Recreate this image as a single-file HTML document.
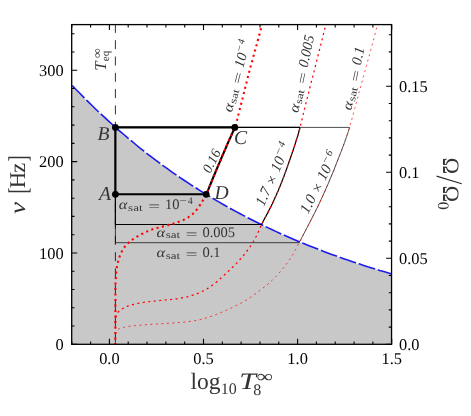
<!DOCTYPE html>
<html><head><meta charset="utf-8"><style>
html,body{margin:0;padding:0;background:#fff;}
svg{display:block}
text{font-family:"Liberation Serif",serif;text-rendering:geometricPrecision;}
.tl{font-size:16.4px;fill:#000}
.it{font-style:italic}
.g{fill:#343434}
</style></head><body>
<svg width="471" height="416" viewBox="0 0 471 416">
<rect width="471" height="416" fill="#fff"/>
<defs><clipPath id="cp"><rect x="71.7" y="24.6" width="319.85" height="319.7"/></clipPath></defs>
<g clip-path="url(#cp)">
<path d="M71.7 344.3 L71.7 85.0 L75.8 89.2 L79.8 93.3 L83.8 97.4 L87.8 101.4 L91.8 105.3 L95.8 109.2 L99.8 113.0 L103.8 116.7 L107.8 120.4 L111.8 124.0 L115.8 127.6 L119.8 131.1 L123.8 134.5 L127.7 137.9 L131.7 141.2 L135.7 144.5 L139.7 147.8 L143.7 150.9 L147.7 154.1 L151.7 157.1 L155.7 160.2 L159.7 163.1 L163.7 166.1 L167.7 168.9 L171.7 171.8 L175.7 174.6 L179.7 177.3 L183.7 180.0 L187.7 182.7 L191.7 185.3 L195.7 187.8 L199.7 190.4 L203.7 192.9 L207.7 195.3 L211.7 197.7 L215.7 200.1 L219.7 202.4 L223.7 204.7 L227.7 207.0 L231.7 209.2 L235.7 211.4 L239.7 213.5 L243.7 215.6 L247.7 217.7 L251.7 219.8 L255.7 221.8 L259.7 223.7 L263.7 225.7 L267.7 227.6 L271.7 229.5 L275.7 231.4 L279.7 233.2 L283.7 235.0 L287.7 236.7 L291.7 238.5 L295.7 240.2 L299.7 241.9 L303.7 243.5 L307.7 245.2 L311.7 246.8 L315.7 248.3 L319.7 249.9 L323.7 251.4 L327.7 252.9 L331.7 254.4 L335.7 255.8 L339.7 257.3 L343.7 258.7 L347.7 260.1 L351.7 261.4 L355.7 262.8 L359.7 264.1 L363.7 265.4 L367.7 266.7 L371.7 267.9 L375.7 269.1 L379.7 270.4 L383.7 271.6 L387.7 272.7 L391.6 273.9 L391.6 344.3 Z" fill="#c8c8c8"/>
<path d="M115.4 23.9 L115.4 344.2" stroke="#000" stroke-width="0.8" stroke-dasharray="9 7.3" fill="none"/>
<path d="M71.7 85.0 L75.8 89.2 L79.8 93.3 L83.8 97.4 L87.8 101.4 L91.8 105.3 L95.8 109.2 L99.8 113.0 L103.8 116.7 L107.8 120.4 L111.8 124.0 L115.8 127.6 L119.8 131.1 L123.8 134.5 L127.7 137.9 L131.7 141.2 L135.7 144.5 L139.7 147.8 L143.7 150.9 L147.7 154.1 L151.7 157.1 L155.7 160.2 L159.7 163.1 L163.7 166.1 L167.7 168.9 L171.7 171.8 L175.7 174.6 L179.7 177.3 L183.7 180.0 L187.7 182.7 L191.7 185.3 L195.7 187.8 L199.7 190.4 L203.7 192.9 L207.7 195.3 L211.7 197.7 L215.7 200.1 L219.7 202.4 L223.7 204.7 L227.7 207.0 L231.7 209.2 L235.7 211.4 L239.7 213.5 L243.7 215.6 L247.7 217.7 L251.7 219.8 L255.7 221.8 L259.7 223.7 L263.7 225.7 L267.7 227.6 L271.7 229.5 L275.7 231.4 L279.7 233.2 L283.7 235.0 L287.7 236.7 L291.7 238.5 L295.7 240.2 L299.7 241.9 L303.7 243.5 L307.7 245.2 L311.7 246.8 L315.7 248.3 L319.7 249.9 L323.7 251.4 L327.7 252.9 L331.7 254.4 L335.7 255.8 L339.7 257.3 L343.7 258.7 L347.7 260.1 L351.7 261.4 L355.7 262.8 L359.7 264.1 L363.7 265.4 L367.7 266.7 L371.7 267.9 L375.7 269.1 L379.7 270.4 L383.7 271.6 L387.7 272.7 L391.6 273.9" stroke="#fff" stroke-width="1" fill="none"/>
<path d="M71.7 85.0 L75.8 89.2 L79.8 93.3 L83.8 97.4 L87.8 101.4 L91.8 105.3 L95.8 109.2 L99.8 113.0 L103.8 116.7 L107.8 120.4 L111.8 124.0 L115.8 127.6 L119.8 131.1 L123.8 134.5 L127.7 137.9 L131.7 141.2 L135.7 144.5 L139.7 147.8 L143.7 150.9 L147.7 154.1 L151.7 157.1 L155.7 160.2 L159.7 163.1 L163.7 166.1 L167.7 168.9 L171.7 171.8 L175.7 174.6 L179.7 177.3 L183.7 180.0 L187.7 182.7 L191.7 185.3 L195.7 187.8 L199.7 190.4 L203.7 192.9 L207.7 195.3 L211.7 197.7 L215.7 200.1 L219.7 202.4 L223.7 204.7 L227.7 207.0 L231.7 209.2 L235.7 211.4 L239.7 213.5 L243.7 215.6 L247.7 217.7 L251.7 219.8 L255.7 221.8 L259.7 223.7 L263.7 225.7 L267.7 227.6 L271.7 229.5 L275.7 231.4 L279.7 233.2 L283.7 235.0 L287.7 236.7 L291.7 238.5 L295.7 240.2 L299.7 241.9 L303.7 243.5 L307.7 245.2 L311.7 246.8 L315.7 248.3 L319.7 249.9 L323.7 251.4 L327.7 252.9 L331.7 254.4 L335.7 255.8 L339.7 257.3 L343.7 258.7 L347.7 260.1 L351.7 261.4 L355.7 262.8 L359.7 264.1 L363.7 265.4 L367.7 266.7 L371.7 267.9 L375.7 269.1 L379.7 270.4 L383.7 271.6 L387.7 272.7 L391.6 273.9" stroke="#1a1af0" stroke-width="1.6" stroke-dasharray="17.3 2.75" stroke-dashoffset="19.15" fill="none"/>
<!-- cycles -->
<path d="M115.4 242.7 L115.4 127.4 L349.5 127.4 M115.4 242.7 L299.2 242.7" stroke="#000" stroke-width="0.7" fill="none"/>
<path d="M299.2 242.6 L299.9 241.2 L300.7 239.8 L301.5 238.3 L302.3 236.7 L303.2 235.1 L304.0 233.4 L304.9 231.7 L305.8 230.0 L306.7 228.3 L307.6 226.6 L308.5 224.8 L309.4 223.1 L310.3 221.4 L311.2 219.6 L312.1 217.9 L313.0 216.1 L313.9 214.3 L314.8 212.5 L315.7 210.7 L316.6 208.9 L317.6 207.0 L318.5 205.1 L319.4 203.2 L320.3 201.3 L321.2 199.3 L322.1 197.3 L323.1 195.2 L324.0 193.1 L325.0 191.0 L325.9 188.9 L326.8 186.8 L327.8 184.6 L328.7 182.5 L329.6 180.4 L330.4 178.3 L331.3 176.3 L332.1 174.3 L333.0 172.2 L333.9 170.1 L334.7 167.9 L335.5 165.8 L336.3 163.8 L337.1 161.7 L337.9 159.8 L338.6 157.9 L339.3 156.1 L340.0 154.4 L340.6 152.8 L341.2 151.4 L341.7 150.1 L342.1 148.9 L342.5 147.8 L342.9 146.8 L343.3 145.9 L343.6 145.0 L343.9 144.1 L344.3 143.2 L344.6 142.3 L344.9 141.3 L345.3 140.3 L345.7 139.3 L346.0 138.3 L346.3 137.4 L346.6 136.5 L346.9 135.7 L347.2 134.7 L347.6 133.8 L347.9 132.8 L348.3 131.6 L348.6 130.4 L349.1 129.0 L349.5 127.5" stroke="#000" stroke-width="0.7" fill="none"/>
<path d="M115.4 224.5 L115.4 127.4 L300 127.4 M115.4 224.5 L261.5 224.5" stroke="#000" stroke-width="1.2" fill="none"/>
<path d="M261.5 224.6 L262.2 223.2 L263.0 221.7 L263.8 220.1 L264.7 218.4 L265.6 216.7 L266.6 214.9 L267.6 213.1 L268.5 211.3 L269.5 209.4 L270.4 207.6 L271.3 205.8 L272.2 204.0 L273.0 202.3 L273.8 200.5 L274.6 198.8 L275.4 197.0 L276.2 195.3 L276.9 193.5 L277.7 191.8 L278.5 190.0 L279.2 188.1 L280.0 186.3 L280.7 184.4 L281.5 182.5 L282.3 180.5 L283.1 178.4 L283.9 176.3 L284.7 174.1 L285.5 171.9 L286.3 169.7 L287.1 167.5 L287.8 165.4 L288.6 163.3 L289.3 161.3 L290.0 159.3 L290.6 157.5 L291.2 155.8 L291.8 154.1 L292.3 152.5 L292.8 151.0 L293.3 149.6 L293.8 148.1 L294.2 146.8 L294.7 145.4 L295.1 144.1 L295.5 142.8 L295.9 141.6 L296.3 140.3 L296.7 139.1 L297.0 138.1 L297.3 137.1 L297.6 136.2 L297.9 135.3 L298.1 134.4 L298.4 133.5 L298.7 132.5 L298.9 131.5 L299.3 130.3 L299.6 129.0 L300.0 127.5" stroke="#000" stroke-width="1.2" fill="none"/>
<path d="M115.4 194.3 L115.4 127.4 L234.8 127.4 M115.4 194.3 L206.2 194.3" stroke="#000" stroke-width="2.1" fill="none"/>
<path d="M206.2 194.3 L206.7 193.2 L207.2 192.0 L207.8 190.7 L208.4 189.3 L209.0 187.9 L209.5 186.5 L210.1 185.0 L210.8 183.5 L211.4 182.0 L212.0 180.5 L212.6 179.0 L213.2 177.5 L213.8 176.0 L214.4 174.6 L215.1 173.0 L215.7 171.5 L216.3 170.0 L217.0 168.5 L217.6 167.0 L218.3 165.4 L218.9 163.9 L219.6 162.4 L220.2 161.0 L220.8 159.5 L221.4 158.1 L222.0 156.7 L222.6 155.2 L223.2 153.9 L223.8 152.5 L224.4 151.1 L225.0 149.7 L225.6 148.4 L226.2 147.0 L226.7 145.7 L227.3 144.3 L227.9 143.0 L228.5 141.6 L229.1 140.3 L229.7 138.9 L230.4 137.5 L231.0 136.1 L231.6 134.7 L232.2 133.4 L232.8 132.1 L233.4 130.8 L233.9 129.6 L234.4 128.5 L234.8 127.4" stroke="#000" stroke-width="2.1" fill="none"/>
<!-- red -->
<path d="M115.4 345.1 L115.4 286.0 L115.4 284.7 L115.5 283.3 L115.6 281.9 L115.6 280.5 L115.7 279.0 L115.8 277.5 L115.9 276.1 L116.0 274.6 L116.1 273.2 L116.2 271.8 L116.3 270.5 L116.5 269.3 L116.7 268.1 L116.9 267.0 L117.1 265.9 L117.3 264.8 L117.5 263.8 L117.7 262.8 L118.0 261.8 L118.2 260.9 L118.5 259.9 L118.8 259.0 L119.1 258.1 L119.4 257.2 L119.7 256.3 L120.1 255.4 L120.4 254.6 L120.8 253.7 L121.1 252.9 L121.5 252.1 L121.9 251.3 L122.4 250.5 L122.8 249.8 L123.2 249.0 L123.7 248.3 L124.2 247.6 L124.7 246.9 L125.2 246.2 L125.8 245.6 L126.3 245.0 L126.9 244.4 L127.5 243.8 L128.1 243.2 L128.7 242.6 L129.4 242.1 L130.0 241.5 L130.7 241.0 L131.4 240.4 L132.1 239.9 L132.8 239.3 L133.6 238.8 L134.3 238.3 L135.1 237.8 L135.9 237.3 L136.7 236.8 L137.5 236.3 L138.4 235.8 L139.2 235.3 L140.1 234.9 L141.0 234.4 L141.9 233.9 L142.9 233.5 L143.8 233.0 L144.8 232.5 L145.8 232.0 L146.8 231.6 L147.9 231.1 L148.9 230.7 L149.9 230.3 L151.0 229.8 L152.0 229.5 L153.0 229.1 L154.0 228.8 L155.0 228.5 L156.0 228.2 L157.0 227.9 L158.0 227.7 L159.0 227.4 L160.0 227.2 L161.0 227.0 L162.0 226.8 L163.0 226.5 L164.0 226.3 L165.0 226.0 L166.0 225.7 L167.0 225.4 L168.1 225.1 L169.1 224.9 L170.1 224.6 L171.1 224.3 L172.2 224.0 L173.2 223.7 L174.2 223.3 L175.1 223.0 L176.1 222.7 L177.0 222.4 L177.9 222.1 L178.8 221.8 L179.6 221.5 L180.5 221.2 L181.3 220.9 L182.1 220.5 L182.9 220.2 L183.6 219.9 L184.4 219.5 L185.2 219.1 L185.9 218.7 L186.7 218.3 L187.5 217.8 L188.2 217.4 L188.9 216.8 L189.7 216.3 L190.4 215.8 L191.1 215.2 L191.8 214.6 L192.5 214.1 L193.2 213.5 L193.9 212.8 L194.5 212.2 L195.1 211.6 L195.7 211.0 L196.2 210.3 L196.8 209.6 L197.3 208.9 L197.8 208.2 L198.3 207.5 L198.8 206.8 L199.3 206.1 L199.7 205.4 L200.2 204.6 L200.6 203.9 L201.1 203.2 L201.6 202.5 L202.0 201.8 L202.4 201.2 L202.8 200.6 L203.2 199.9 L203.6 199.3 L204.0 198.6 L204.4 197.9 L204.8 197.1 L205.3 196.2 L205.7 195.3 L206.2 194.3 L206.7 193.2 L207.2 192.0 L207.8 190.7 L208.4 189.3 L209.0 187.9 L209.5 186.5 L210.1 185.0 L210.8 183.5 L211.4 182.0 L212.0 180.5 L212.6 179.0 L213.2 177.5 L213.8 176.0 L214.4 174.6 L215.1 173.0 L215.7 171.5 L216.3 170.0 L217.0 168.5 L217.6 167.0 L218.3 165.4 L218.9 163.9 L219.6 162.4 L220.2 161.0 L220.8 159.5 L221.4 158.1 L222.0 156.7 L222.6 155.2 L223.2 153.9 L223.8 152.5 L224.4 151.1 L225.0 149.7 L225.6 148.4 L226.2 147.0 L226.7 145.7 L227.3 144.3 L227.9 143.0 L228.5 141.6 L229.1 140.3 L229.7 138.9 L230.4 137.5 L231.0 136.1 L231.6 134.7 L232.2 133.4 L232.8 132.1 L233.4 130.8 L233.9 129.6 L234.4 128.5 L234.8 127.4 L235.2 126.5 L235.4 125.7 L235.7 125.1 L235.9 124.5 L236.0 124.0 L236.2 123.5 L236.3 122.9 L236.4 122.3 L236.6 121.6 L236.8 120.8 L237.1 119.8 L237.4 118.5 L237.8 117.0 L238.2 115.3 L238.7 113.5 L239.2 111.5 L239.7 109.5 L240.2 107.3 L240.8 105.1 L241.4 102.9 L241.9 100.7 L242.5 98.5 L243.0 96.4 L243.5 94.4 L244.0 92.5 L244.5 90.5 L245.0 88.6 L245.4 86.7 L245.9 84.8 L246.4 82.9 L246.9 81.0 L247.3 79.2 L247.8 77.3 L248.3 75.4 L248.8 73.5 L249.3 71.6 L249.8 69.7 L250.3 67.8 L250.8 65.9 L251.3 64.0 L251.9 62.1 L252.4 60.2 L252.9 58.3 L253.4 56.4 L253.9 54.5 L254.5 52.6 L255.0 50.7 L255.5 48.8 L256.0 46.8 L256.6 44.8 L257.2 42.6 L257.8 40.4 L258.4 38.3 L258.9 36.1 L259.5 34.1 L260.0 32.1 L260.5 30.3 L261.0 28.6 L261.4 27.2 L261.7 26.0 L262.0 25.1 L262.1 24.4 L262.3 23.9 L262.4 23.6 L262.4 23.4 L262.4 23.3 L262.4 23.3 L262.4 23.4 L262.4 23.5 L262.4 23.5 L262.4 23.6 L262.4 23.5" stroke="#ff0000" stroke-width="2.1" stroke-dasharray="2.1 3.4" fill="none"/>
<path d="M115.4 345.1 L115.4 322.0 L115.4 321.2 L115.5 320.6 L115.5 320.0 L115.6 319.4 L115.6 318.9 L115.7 318.4 L115.7 318.0 L115.8 317.6 L115.9 317.2 L116.0 316.8 L116.1 316.4 L116.2 316.0 L116.3 315.6 L116.4 315.2 L116.5 314.9 L116.7 314.5 L116.8 314.2 L117.0 313.8 L117.1 313.5 L117.3 313.2 L117.5 312.9 L117.7 312.6 L117.9 312.3 L118.2 312.0 L118.5 311.7 L118.8 311.4 L119.2 311.1 L119.5 310.7 L119.9 310.4 L120.4 310.1 L120.8 309.8 L121.2 309.5 L121.7 309.2 L122.1 308.9 L122.5 308.7 L123.0 308.4 L123.4 308.1 L123.9 307.9 L124.3 307.7 L124.7 307.4 L125.1 307.2 L125.5 307.0 L126.0 306.8 L126.5 306.6 L127.0 306.4 L127.6 306.2 L128.3 305.9 L129.0 305.7 L129.8 305.5 L130.7 305.2 L131.6 305.0 L132.6 304.7 L133.6 304.4 L134.6 304.2 L135.7 303.9 L136.8 303.7 L137.9 303.4 L138.9 303.2 L140.0 303.0 L141.0 302.8 L142.0 302.6 L143.0 302.5 L144.0 302.3 L145.0 302.2 L146.0 302.0 L147.0 301.9 L148.0 301.8 L149.0 301.7 L150.0 301.5 L151.0 301.4 L152.0 301.3 L153.0 301.2 L154.0 301.1 L155.0 301.0 L156.0 300.9 L157.0 300.8 L158.0 300.7 L159.0 300.6 L160.0 300.5 L161.0 300.4 L162.0 300.3 L163.0 300.2 L164.0 300.1 L165.0 300.0 L166.0 299.9 L167.0 299.8 L168.0 299.7 L169.0 299.6 L170.0 299.6 L171.0 299.5 L172.0 299.4 L173.0 299.3 L174.0 299.2 L175.0 299.1 L176.0 298.9 L177.0 298.8 L178.0 298.6 L179.0 298.5 L180.0 298.3 L181.0 298.1 L182.0 297.9 L183.0 297.7 L184.0 297.5 L185.0 297.3 L186.0 297.1 L187.0 296.8 L188.0 296.6 L189.0 296.3 L190.0 296.0 L191.0 295.7 L192.0 295.4 L193.0 295.1 L194.0 294.8 L195.0 294.4 L196.0 294.1 L197.0 293.7 L198.0 293.3 L199.0 292.9 L200.0 292.5 L201.0 292.0 L202.0 291.5 L203.0 291.0 L203.9 290.6 L204.9 290.1 L205.8 289.5 L206.8 289.0 L207.7 288.4 L208.7 287.8 L209.7 287.1 L210.8 286.4 L211.9 285.6 L213.0 284.8 L214.2 283.9 L215.5 282.8 L216.8 281.7 L218.2 280.5 L219.6 279.3 L221.0 278.0 L222.4 276.8 L223.8 275.5 L225.1 274.2 L226.4 273.0 L227.6 271.9 L228.8 270.8 L229.9 269.8 L230.9 268.8 L231.9 267.9 L232.8 267.0 L233.7 266.1 L234.6 265.3 L235.4 264.4 L236.3 263.6 L237.1 262.7 L237.9 261.8 L238.8 260.9 L239.6 260.0 L240.4 259.0 L241.3 258.1 L242.1 257.1 L243.0 256.1 L243.8 255.1 L244.6 254.1 L245.4 253.1 L246.2 252.0 L247.0 251.0 L247.8 250.0 L248.5 249.0 L249.2 248.0 L249.9 247.0 L250.6 246.0 L251.2 245.0 L251.9 244.0 L252.5 243.0 L253.1 242.0 L253.7 241.0 L254.2 240.0 L254.8 239.0 L255.3 238.0 L255.9 237.0 L256.4 236.0 L256.9 235.1 L257.3 234.2 L257.7 233.3 L258.0 232.5 L258.4 231.7 L258.7 230.8 L259.1 230.0 L259.5 229.1 L259.9 228.1 L260.4 227.0 L260.9 225.9 L261.5 224.6 L262.2 223.2 L263.0 221.7 L263.8 220.1 L264.7 218.4 L265.6 216.7 L266.6 214.9 L267.6 213.1 L268.5 211.3 L269.5 209.4 L270.4 207.6 L271.3 205.8 L272.2 204.0 L273.0 202.3 L273.8 200.5 L274.6 198.8 L275.4 197.0 L276.2 195.3 L276.9 193.5 L277.7 191.8 L278.5 190.0 L279.2 188.1 L280.0 186.3 L280.7 184.4 L281.5 182.5 L282.3 180.5 L283.1 178.4 L283.9 176.3 L284.7 174.1 L285.5 171.9 L286.3 169.7 L287.1 167.5 L287.8 165.4 L288.6 163.3 L289.3 161.3 L290.0 159.3 L290.6 157.5 L291.2 155.8 L291.8 154.1 L292.3 152.5 L292.8 151.0 L293.3 149.6 L293.8 148.1 L294.2 146.8 L294.7 145.4 L295.1 144.1 L295.5 142.8 L295.9 141.6 L296.3 140.3 L296.7 139.1 L297.0 138.1 L297.3 137.1 L297.6 136.2 L297.9 135.3 L298.1 134.4 L298.4 133.5 L298.7 132.5 L298.9 131.5 L299.3 130.3 L299.6 129.0 L300.0 127.5 L300.4 125.8 L300.9 124.0 L301.4 122.0 L301.9 119.9 L302.4 117.8 L302.9 115.6 L303.5 113.3 L304.0 111.0 L304.6 108.7 L305.1 106.4 L305.7 104.2 L306.2 102.0 L306.7 99.9 L307.3 97.7 L307.8 95.6 L308.4 93.5 L308.9 91.3 L309.5 89.2 L310.0 87.0 L310.6 84.9 L311.1 82.7 L311.7 80.6 L312.3 78.4 L312.8 76.3 L313.3 74.2 L313.9 72.0 L314.4 69.9 L315.0 67.7 L315.5 65.6 L316.1 63.4 L316.6 61.2 L317.1 59.1 L317.7 56.9 L318.2 54.8 L318.8 52.6 L319.3 50.5 L319.9 48.3 L320.5 45.9 L321.1 43.5 L321.7 41.0 L322.3 38.6 L322.9 36.1 L323.5 33.8 L324.1 31.6 L324.6 29.5 L325.1 27.7 L325.5 26.1 L325.8 24.8 L326.0 23.8 L326.2 23.1 L326.3 22.6 L326.4 22.4 L326.4 22.3 L326.4 22.3 L326.4 22.4 L326.3 22.6 L326.3 22.8 L326.2 22.9 L326.2 23.0 L326.2 23.0" stroke="#ff0000" stroke-width="1.25" stroke-dasharray="2.1 3.4" fill="none"/>
<path d="M115.4 345.1 L115.4 334.7 L115.4 334.2 L115.5 333.7 L115.6 333.3 L115.6 333.0 L115.7 332.7 L115.8 332.5 L115.9 332.2 L116.0 332.0 L116.1 331.8 L116.2 331.6 L116.3 331.4 L116.5 331.2 L116.7 331.0 L116.8 330.7 L116.9 330.5 L117.1 330.3 L117.2 330.1 L117.4 329.9 L117.6 329.7 L117.9 329.5 L118.2 329.3 L118.5 329.1 L118.9 328.9 L119.4 328.7 L120.0 328.5 L120.6 328.3 L121.3 328.1 L122.0 327.8 L122.8 327.6 L123.6 327.4 L124.5 327.2 L125.4 327.0 L126.3 326.8 L127.2 326.6 L128.1 326.5 L129.0 326.3 L129.9 326.2 L130.9 326.0 L131.8 325.9 L132.8 325.8 L133.8 325.7 L134.8 325.6 L135.9 325.5 L136.9 325.4 L137.9 325.4 L139.0 325.3 L140.0 325.2 L141.0 325.1 L142.0 325.0 L143.0 324.9 L144.0 324.8 L145.0 324.8 L146.0 324.7 L147.0 324.6 L148.0 324.5 L149.0 324.5 L150.0 324.4 L151.0 324.3 L152.0 324.3 L153.0 324.2 L154.0 324.1 L155.0 324.1 L156.0 324.0 L157.0 324.0 L158.0 323.9 L159.0 323.8 L160.0 323.8 L161.0 323.7 L162.0 323.7 L163.0 323.6 L164.0 323.6 L165.0 323.5 L166.0 323.4 L167.0 323.4 L168.0 323.3 L169.0 323.3 L170.0 323.2 L171.0 323.1 L172.0 323.1 L173.0 323.0 L174.0 322.9 L175.0 322.9 L176.0 322.8 L177.0 322.7 L178.0 322.6 L179.0 322.5 L180.0 322.4 L181.0 322.4 L182.0 322.3 L183.0 322.2 L184.0 322.1 L185.0 322.0 L186.0 321.9 L187.0 321.8 L188.0 321.6 L189.0 321.5 L190.0 321.4 L191.0 321.2 L192.0 321.1 L193.0 320.9 L194.0 320.8 L195.0 320.6 L196.0 320.4 L197.0 320.3 L198.0 320.1 L199.0 319.9 L200.0 319.6 L201.0 319.4 L202.0 319.1 L203.0 318.9 L204.0 318.6 L205.0 318.3 L206.0 318.0 L207.0 317.7 L208.0 317.3 L209.0 317.0 L210.0 316.7 L211.0 316.3 L212.0 316.0 L213.0 315.6 L214.0 315.2 L215.0 314.9 L216.0 314.5 L217.0 314.1 L218.0 313.7 L219.0 313.3 L220.0 312.9 L221.0 312.5 L222.0 312.1 L223.0 311.7 L224.0 311.2 L225.0 310.8 L226.0 310.4 L227.0 309.9 L228.0 309.5 L229.0 309.0 L230.1 308.6 L231.1 308.1 L232.1 307.6 L233.1 307.1 L234.1 306.7 L235.1 306.2 L236.0 305.7 L237.0 305.2 L237.9 304.7 L238.9 304.2 L239.8 303.8 L240.7 303.3 L241.6 302.8 L242.5 302.3 L243.4 301.8 L244.3 301.3 L245.2 300.7 L246.1 300.2 L247.1 299.6 L248.0 299.0 L249.0 298.4 L249.9 297.7 L250.9 297.0 L251.9 296.3 L252.9 295.6 L253.9 294.9 L254.9 294.1 L256.0 293.4 L257.0 292.6 L258.0 291.8 L259.0 291.1 L260.0 290.3 L261.0 289.5 L262.0 288.8 L263.0 288.0 L264.0 287.2 L265.0 286.5 L266.0 285.7 L267.0 284.9 L268.0 284.1 L269.0 283.2 L270.0 282.3 L271.0 281.4 L272.0 280.5 L273.0 279.5 L274.0 278.5 L275.1 277.4 L276.1 276.3 L277.2 275.1 L278.2 274.0 L279.2 272.8 L280.3 271.7 L281.2 270.5 L282.2 269.4 L283.1 268.3 L284.0 267.2 L284.8 266.2 L285.6 265.1 L286.4 264.1 L287.2 263.1 L287.9 262.1 L288.6 261.2 L289.3 260.2 L289.9 259.2 L290.6 258.2 L291.2 257.2 L291.9 256.2 L292.5 255.2 L293.1 254.2 L293.7 253.2 L294.2 252.3 L294.7 251.3 L295.2 250.3 L295.7 249.4 L296.3 248.4 L296.8 247.3 L297.3 246.2 L297.9 245.1 L298.5 243.9 L299.2 242.6 L299.9 241.2 L300.7 239.8 L301.5 238.3 L302.3 236.7 L303.2 235.1 L304.0 233.4 L304.9 231.7 L305.8 230.0 L306.7 228.3 L307.6 226.6 L308.5 224.8 L309.4 223.1 L310.3 221.4 L311.2 219.6 L312.1 217.9 L313.0 216.1 L313.9 214.3 L314.8 212.5 L315.7 210.7 L316.6 208.9 L317.6 207.0 L318.5 205.1 L319.4 203.2 L320.3 201.3 L321.2 199.3 L322.1 197.3 L323.1 195.2 L324.0 193.1 L325.0 191.0 L325.9 188.9 L326.8 186.8 L327.8 184.6 L328.7 182.5 L329.6 180.4 L330.4 178.3 L331.3 176.3 L332.1 174.3 L333.0 172.2 L333.9 170.1 L334.7 167.9 L335.5 165.8 L336.3 163.8 L337.1 161.7 L337.9 159.8 L338.6 157.9 L339.3 156.1 L340.0 154.4 L340.6 152.8 L341.2 151.4 L341.7 150.1 L342.1 148.9 L342.5 147.8 L342.9 146.8 L343.3 145.9 L343.6 145.0 L343.9 144.1 L344.3 143.2 L344.6 142.3 L344.9 141.3 L345.3 140.3 L345.7 139.3 L346.0 138.3 L346.3 137.4 L346.6 136.5 L346.9 135.7 L347.2 134.7 L347.6 133.8 L347.9 132.8 L348.3 131.6 L348.6 130.4 L349.1 129.0 L349.5 127.5 L350.0 125.8 L350.5 123.9 L351.1 121.9 L351.7 119.8 L352.3 117.6 L352.9 115.3 L353.5 113.0 L354.1 110.6 L354.8 108.3 L355.4 106.0 L356.0 103.7 L356.6 101.5 L357.2 99.4 L357.8 97.2 L358.4 95.1 L358.9 93.0 L359.5 90.8 L360.1 88.7 L360.7 86.6 L361.3 84.5 L361.9 82.4 L362.4 80.2 L363.0 78.1 L363.6 76.0 L364.2 73.9 L364.8 71.8 L365.4 69.6 L365.9 67.5 L366.5 65.4 L367.1 63.2 L367.7 61.1 L368.3 59.0 L368.9 56.9 L369.4 54.8 L370.0 52.6 L370.6 50.5 L371.2 48.3 L371.8 46.0 L372.5 43.6 L373.1 41.1 L373.8 38.7 L374.4 36.3 L375.0 34.0 L375.6 31.8 L376.1 29.7 L376.6 27.9 L377.1 26.3 L377.4 25.0 L377.7 24.0 L377.9 23.3 L378.0 22.8 L378.1 22.5 L378.1 22.4 L378.1 22.4 L378.0 22.5 L378.0 22.6 L378.0 22.8 L377.9 22.9 L377.9 23.0 L377.9 23.0" stroke="#ff0000" stroke-width="0.7" stroke-dasharray="2.1 3.4" fill="none"/>
<circle cx="115.4" cy="194.3" r="3.4"/><circle cx="115.4" cy="127.4" r="3.4"/><circle cx="234.8" cy="127.4" r="3.4"/><circle cx="206.2" cy="194.3" r="3.4"/>
</g>
<path d="M71.8 344.3 L71.8 341.5 M71.8 24.6 L71.8 27.4 M90.6 344.3 L90.6 341.5 M90.6 24.6 L90.6 27.4 M109.4 344.3 L109.4 338.8 M109.4 24.6 L109.4 30.1 M128.2 344.3 L128.2 341.5 M128.2 24.6 L128.2 27.4 M147.0 344.3 L147.0 341.5 M147.0 24.6 L147.0 27.4 M165.9 344.3 L165.9 341.5 M165.9 24.6 L165.9 27.4 M184.7 344.3 L184.7 341.5 M184.7 24.6 L184.7 27.4 M203.5 344.3 L203.5 338.8 M203.5 24.6 L203.5 30.1 M222.3 344.3 L222.3 341.5 M222.3 24.6 L222.3 27.4 M241.1 344.3 L241.1 341.5 M241.1 24.6 L241.1 27.4 M260.0 344.3 L260.0 341.5 M260.0 24.6 L260.0 27.4 M278.8 344.3 L278.8 341.5 M278.8 24.6 L278.8 27.4 M297.6 344.3 L297.6 338.8 M297.6 24.6 L297.6 30.1 M316.4 344.3 L316.4 341.5 M316.4 24.6 L316.4 27.4 M335.2 344.3 L335.2 341.5 M335.2 24.6 L335.2 27.4 M354.1 344.3 L354.1 341.5 M354.1 24.6 L354.1 27.4 M372.9 344.3 L372.9 341.5 M372.9 24.6 L372.9 27.4 M391.7 344.3 L391.7 338.8 M391.7 24.6 L391.7 30.1 M71.7 344.3 L77.2 344.3 M71.7 326.0 L74.5 326.0 M71.7 307.8 L74.5 307.8 M71.7 289.5 L74.5 289.5 M71.7 271.2 L74.5 271.2 M71.7 253.0 L77.2 253.0 M71.7 234.7 L74.5 234.7 M71.7 216.4 L74.5 216.4 M71.7 198.2 L74.5 198.2 M71.7 179.9 L74.5 179.9 M71.7 161.6 L77.2 161.6 M71.7 143.4 L74.5 143.4 M71.7 125.1 L74.5 125.1 M71.7 106.8 L74.5 106.8 M71.7 88.5 L74.5 88.5 M71.7 70.3 L77.2 70.3 M71.7 52.0 L74.5 52.0 M71.7 33.7 L74.5 33.7 M391.6 344.3 L386.1 344.3 M391.6 327.1 L388.8 327.1 M391.6 309.9 L388.8 309.9 M391.6 292.7 L388.8 292.7 M391.6 275.5 L388.8 275.5 M391.6 258.3 L386.1 258.3 M391.6 241.1 L388.8 241.1 M391.6 223.9 L388.8 223.9 M391.6 206.7 L388.8 206.7 M391.6 189.5 L388.8 189.5 M391.6 172.3 L386.1 172.3 M391.6 155.1 L388.8 155.1 M391.6 137.9 L388.8 137.9 M391.6 120.7 L388.8 120.7 M391.6 103.5 L388.8 103.5 M391.6 86.3 L386.1 86.3 M391.6 69.1 L388.8 69.1 M391.6 51.9 L388.8 51.9 M391.6 34.7 L388.8 34.7" stroke="#000" stroke-width="1.1" fill="none"/>
<rect x="71.7" y="24.6" width="319.85" height="319.7" fill="none" stroke="#000" stroke-width="1.3"/>
<g opacity="0.999"><!-- tick labels -->
<g class="tl" text-anchor="end">
<text x="63.6" y="75.9">300</text><text x="63.6" y="167.2">200</text><text x="63.6" y="258.5">100</text><text x="63.6" y="349.8">0</text>
</g>
<g class="tl" text-anchor="middle">
<text x="109.4" y="364.3">0.0</text><text x="203.5" y="364.3">0.5</text><text x="297.6" y="364.3">1.0</text><text x="391.7" y="364.3">1.5</text>
</g>
<g class="tl">
<text x="399" y="91.8">0.15</text><text x="399" y="177.8">0.1</text><text x="399" y="263.8">0.05</text><text x="399" y="349.8">0.0</text>
</g>
<!-- axis labels -->
<g class="g" transform="translate(25.2,214) rotate(-90)" font-size="22.5">
<text x="0" y="0" font-style="italic" textLength="12" lengthAdjust="spacingAndGlyphs">ν</text>
<text x="20.4" y="1.3" font-size="27" textLength="6" lengthAdjust="spacingAndGlyphs">[</text>
<text x="25.8" y="0" textLength="16.3" lengthAdjust="spacingAndGlyphs">H</text>
<text x="41.3" y="0">z</text>
<text x="52.4" y="1.3" font-size="27" textLength="6" lengthAdjust="spacingAndGlyphs">]</text>
</g>
<g class="g">
<text x="190.5" y="389.2" font-size="23.5">log</text>
<text x="220.7" y="394.2" font-size="16">10</text>
<text x="239.3" y="389.2" font-size="23.5" font-style="italic" textLength="16.7" lengthAdjust="spacingAndGlyphs">T</text>
<text x="253.2" y="395.2" font-size="16">8</text>
<text x="256.4" y="381.5" font-size="17" textLength="16.5" lengthAdjust="spacingAndGlyphs">∞</text>
</g>
<g class="g" transform="translate(442.5,157.5) rotate(90)" font-size="23.5">
<text x="0" y="0" textLength="16.7" lengthAdjust="spacingAndGlyphs">Ω</text>
<text x="28.1" y="0" textLength="16.7" lengthAdjust="spacingAndGlyphs">Ω</text>
<text x="44.3" y="4.1" font-size="16">0</text>
<path d="M18.6 5.9 L26.3 -19.2" stroke="#2a2a2a" stroke-width="1.1" fill="none"/>
</g>
<!-- point labels -->
<g class="g it" font-size="19.6">
<text x="99" y="199.8">A</text><text x="97.6" y="139.5">B</text><text x="234" y="143.5">C</text><text x="214.5" y="199">D</text>
</g>
<!-- Teq -->
<g class="g" transform="translate(106.6,70.5) rotate(-90)">
<text x="-0.3" y="-0.4" font-size="16.5" font-style="italic">T</text>
<text x="9.3" y="2.7" font-size="11">eq</text>
<text x="12.6" y="-6" font-size="12" textLength="9.8" lengthAdjust="spacingAndGlyphs">∞</text>
</g>
<!-- alpha labels horizontal -->
<g class="g">
<g transform="translate(118.8,209.3)"><text x="0.0" y="0.0" font-size="14.0" textLength="8.6" lengthAdjust="spacingAndGlyphs" font-style="italic">α</text><text x="9.3" y="1.6" font-size="10.0" textLength="14.4" lengthAdjust="spacingAndGlyphs">sat</text><text x="29.4" y="1.7" font-size="14.0" textLength="11.8" lengthAdjust="spacingAndGlyphs">=</text><text x="46.1" y="0.0" font-size="14.5">10</text><text x="60.5" y="-5.6" font-size="10.0" textLength="7.6" lengthAdjust="spacingAndGlyphs">−</text><text x="68.9" y="-5.6" font-size="10.0">4</text></g>
<g transform="translate(156.4,236.8)"><text x="0.0" y="0.0" font-size="14.0" textLength="8.6" lengthAdjust="spacingAndGlyphs" font-style="italic">α</text><text x="9.3" y="1.6" font-size="10.0" textLength="14.4" lengthAdjust="spacingAndGlyphs">sat</text><text x="29.4" y="1.7" font-size="14.0" textLength="11.8" lengthAdjust="spacingAndGlyphs">=</text><text x="46.1" y="0.0" font-size="14.5">0.005</text></g>
<g transform="translate(156.4,257.2)"><text x="0.0" y="0.0" font-size="14.0" textLength="8.6" lengthAdjust="spacingAndGlyphs" font-style="italic">α</text><text x="9.3" y="1.6" font-size="10.0" textLength="14.4" lengthAdjust="spacingAndGlyphs">sat</text><text x="29.4" y="1.7" font-size="14.0" textLength="11.8" lengthAdjust="spacingAndGlyphs">=</text><text x="46.1" y="0.0" font-size="14.5">0.1</text></g>
<g transform="translate(231.8,112.8) rotate(-75.5)"><text x="0.0" y="0.0" font-size="14.0" textLength="8.6" lengthAdjust="spacingAndGlyphs" font-style="italic">α</text><text x="9.3" y="1.6" font-size="10.0" textLength="14.4" lengthAdjust="spacingAndGlyphs">sat</text><text x="29.4" y="1.7" font-size="14.0" textLength="11.8" lengthAdjust="spacingAndGlyphs">=</text><text x="46.1" y="0.0" font-size="14.5" font-style="italic">10</text><text x="60.5" y="-5.6" font-size="10.0" textLength="7.6" lengthAdjust="spacingAndGlyphs" font-style="italic">−</text><text x="68.9" y="-5.6" font-size="10.0" font-style="italic">4</text></g>
<g transform="translate(298,113.2) rotate(-78)"><text x="0.0" y="0.0" font-size="14.0" textLength="8.6" lengthAdjust="spacingAndGlyphs" font-style="italic">α</text><text x="9.3" y="1.6" font-size="10.0" textLength="14.4" lengthAdjust="spacingAndGlyphs">sat</text><text x="29.4" y="1.7" font-size="14.0" textLength="11.8" lengthAdjust="spacingAndGlyphs">=</text><text x="46.1" y="0.0" font-size="14.5" font-style="italic">0.005</text></g>
<g transform="translate(351.2,110.8) rotate(-78)"><text x="0.0" y="0.0" font-size="14.0" textLength="8.6" lengthAdjust="spacingAndGlyphs" font-style="italic">α</text><text x="9.3" y="1.6" font-size="10.0" textLength="14.4" lengthAdjust="spacingAndGlyphs">sat</text><text x="29.4" y="1.7" font-size="14.0" textLength="11.8" lengthAdjust="spacingAndGlyphs">=</text><text x="46.1" y="0.0" font-size="14.5" font-style="italic">0.1</text></g>
<g transform="translate(210.3,174.1) rotate(-64)"><text x="0.0" y="0.0" font-size="14.0" font-style="italic">0.16</text></g>
<g transform="translate(263.7,207) rotate(-66)"><text x="0.0" y="0.0" font-size="15.0" font-style="italic">1.7</text><text x="22.5" y="1.2" font-size="15.0" textLength="10.9" lengthAdjust="spacingAndGlyphs" font-style="italic">×</text><text x="37.5" y="0.0" font-size="15.0" font-style="italic">10</text><text x="52.8" y="-6.0" font-size="10.5" textLength="8.4" lengthAdjust="spacingAndGlyphs" font-style="italic">−</text><text x="61.9" y="-6.0" font-size="10.5" font-style="italic">4</text></g>
<g transform="translate(308,214.6) rotate(-63)"><text x="0.0" y="0.0" font-size="15.0" font-style="italic">1.0</text><text x="22.5" y="1.2" font-size="15.0" textLength="10.9" lengthAdjust="spacingAndGlyphs" font-style="italic">×</text><text x="37.5" y="0.0" font-size="15.0" font-style="italic">10</text><text x="52.8" y="-6.0" font-size="10.5" textLength="8.4" lengthAdjust="spacingAndGlyphs" font-style="italic">−</text><text x="61.9" y="-6.0" font-size="10.5" font-style="italic">6</text></g>
</g>
</g>
</svg>
</body></html>
